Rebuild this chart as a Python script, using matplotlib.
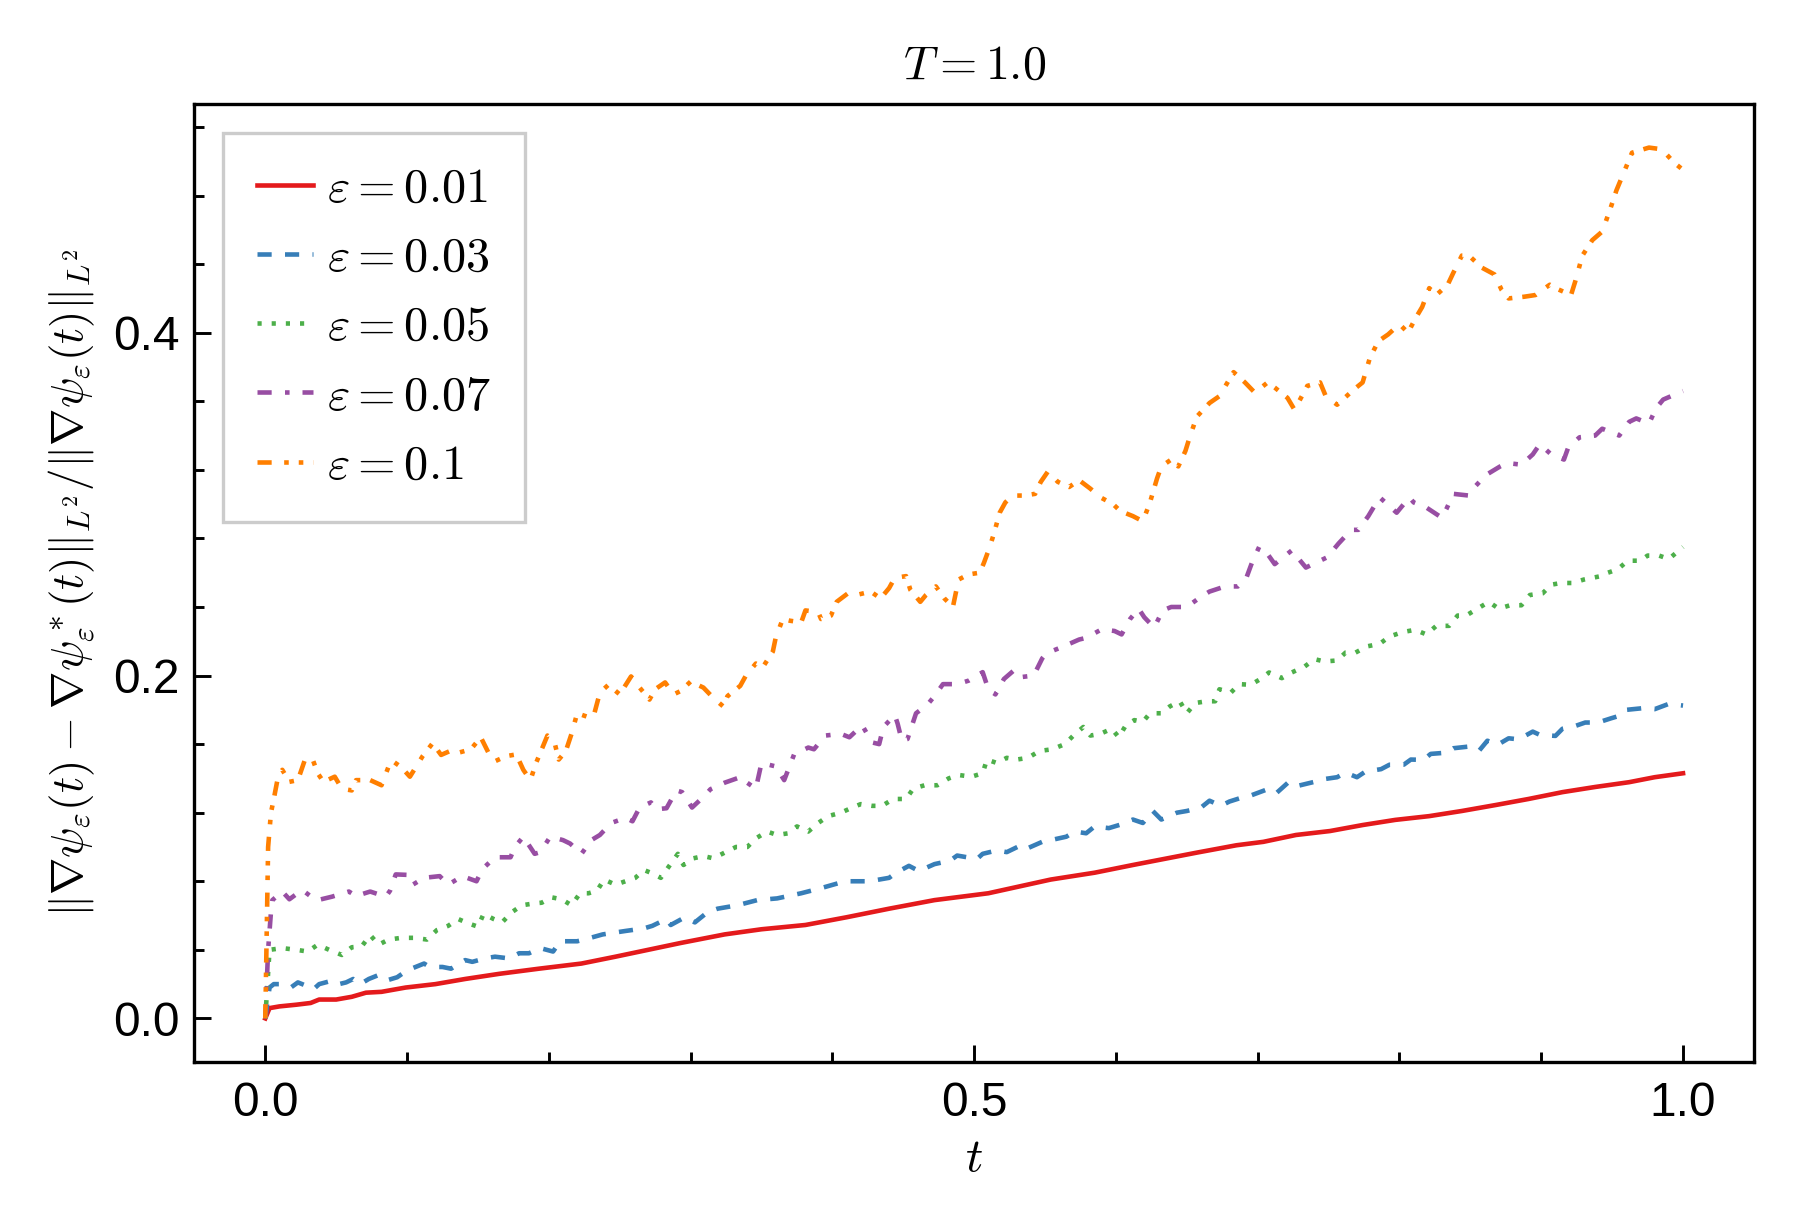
import matplotlib
matplotlib.use("Agg")
import matplotlib.pyplot as plt
from matplotlib.ticker import MultipleLocator, AutoMinorLocator

plt.rcParams['font.family'] = ['Liberation Sans', 'DejaVu Sans']
plt.rcParams['mathtext.fontset'] = 'cm'
plt.rcParams['lines.scale_dashes'] = False

# values, (t, relative error) per epsilon
t_red = [0, 0.003, 0.010, 0.022, 0.032, 0.038, 0.050, 0.061, 0.071, 0.082, 0.099, 0.120,
         0.141, 0.165, 0.193, 0.223, 0.247, 0.270, 0.293, 0.324, 0.350, 0.381, 0.410, 0.440,
         0.472, 0.510, 0.554, 0.585, 0.612, 0.657, 0.685, 0.704, 0.727, 0.751, 0.774, 0.797,
         0.821, 0.844, 0.868, 0.891, 0.915, 0.938, 0.962, 0.980, 1.000]
v_red = [0, 0.006, 0.007, 0.008, 0.009, 0.011, 0.011, 0.0126, 0.015, 0.0155, 0.018, 0.020,
         0.023, 0.026, 0.029, 0.032, 0.036, 0.040, 0.044, 0.049, 0.052, 0.0545, 0.059, 0.064,
         0.069, 0.073, 0.081, 0.085, 0.0895, 0.0967, 0.101, 0.103, 0.107, 0.1093, 0.1128, 0.1158,
         0.118, 0.121, 0.1245, 0.128, 0.132, 0.135, 0.1378, 0.1407, 0.143]

t_blue = [0, 0.003, 0.006, 0.010, 0.018, 0.023, 0.029, 0.034, 0.038, 0.047, 0.052, 0.057,
          0.062, 0.067, 0.073, 0.079, 0.085, 0.093, 0.100, 0.106, 0.112, 0.116, 0.125, 0.131,
          0.141, 0.146, 0.155, 0.162, 0.172, 0.179, 0.186, 0.194, 0.203, 0.208, 0.220, 0.225,
          0.238, 0.254, 0.267, 0.273, 0.283, 0.286, 0.296, 0.303, 0.312, 0.319, 0.333, 0.347,
          0.361, 0.378, 0.392, 0.409, 0.426, 0.440, 0.445, 0.454, 0.461, 0.472, 0.483, 0.488,
          0.502, 0.506, 0.516, 0.523, 0.533, 0.537, 0.548, 0.554, 0.565, 0.571, 0.579, 0.585,
          0.595, 0.603, 0.612, 0.619, 0.626, 0.632, 0.643, 0.650, 0.660, 0.666, 0.674, 0.680,
          0.691, 0.695, 0.707, 0.713, 0.722, 0.728, 0.740, 0.746, 0.756, 0.762, 0.770, 0.776,
          0.787, 0.793, 0.803, 0.808, 0.817, 0.822, 0.833, 0.838, 0.848, 0.856, 0.862, 0.869,
          0.877, 0.884, 0.894, 0.899, 0.910, 0.915, 0.924, 0.931, 0.940, 0.949, 0.957, 0.960,
          0.972, 0.980, 0.990, 1.000]
v_blue = [0, 0.018, 0.020, 0.020, 0.018, 0.021, 0.019, 0.017, 0.020, 0.022, 0.020, 0.021,
          0.023, 0.020, 0.023, 0.025, 0.022, 0.024, 0.028, 0.030, 0.032, 0.030, 0.030, 0.029,
          0.034, 0.033, 0.035, 0.036, 0.035, 0.038, 0.038, 0.041, 0.039, 0.045, 0.045, 0.046,
          0.049, 0.051, 0.0525, 0.054, 0.058, 0.0545, 0.059, 0.056, 0.062, 0.064, 0.066, 0.069,
          0.070, 0.073, 0.076, 0.080, 0.080, 0.082, 0.085, 0.089, 0.086, 0.090, 0.092, 0.095,
          0.093, 0.096, 0.098, 0.097, 0.101, 0.099, 0.103, 0.104, 0.106, 0.109, 0.108, 0.112,
          0.111, 0.113, 0.116, 0.114, 0.121, 0.116, 0.120, 0.121, 0.123, 0.127, 0.124, 0.1265,
          0.1294, 0.130, 0.1337, 0.1313, 0.138, 0.1356, 0.138, 0.1395, 0.1407, 0.1434, 0.1407, 0.144,
          0.1454, 0.148, 0.148, 0.151, 0.1508, 0.1543, 0.155, 0.1576, 0.1585, 0.156, 0.162, 0.1595,
          0.1634, 0.1628, 0.1673, 0.1654, 0.1648, 0.169, 0.1706, 0.1726, 0.1726, 0.175, 0.177, 0.180,
          0.181, 0.1804, 0.1835, 0.1825]

t_green = [0, 0.003, 0.012, 0.022, 0.030, 0.037, 0.045, 0.054, 0.061, 0.068, 0.074, 0.080,
           0.087, 0.096, 0.105, 0.114, 0.121, 0.129, 0.136, 0.143, 0.150, 0.154, 0.161, 0.167,
           0.174, 0.181, 0.189, 0.195, 0.202, 0.209, 0.216, 0.222, 0.228, 0.234, 0.239, 0.247,
           0.254, 0.261, 0.267, 0.273, 0.279, 0.285, 0.291, 0.295, 0.302, 0.309, 0.316, 0.324,
           0.332, 0.340, 0.346, 0.354, 0.361, 0.369, 0.375, 0.383, 0.390, 0.397, 0.406, 0.414,
           0.420, 0.428, 0.435, 0.443, 0.452, 0.457, 0.465, 0.474, 0.482, 0.489, 0.498, 0.506,
           0.509, 0.516, 0.523, 0.530, 0.538, 0.546, 0.555, 0.564, 0.570, 0.577, 0.582, 0.589,
           0.597, 0.602, 0.607, 0.613, 0.619, 0.624, 0.632, 0.638, 0.645, 0.650, 0.656, 0.664,
           0.670, 0.673, 0.681, 0.687, 0.695, 0.701, 0.708, 0.717, 0.724, 0.733, 0.740, 0.747,
           0.756, 0.762, 0.769, 0.777, 0.786, 0.793, 0.802, 0.811, 0.819, 0.826, 0.835, 0.841,
           0.847, 0.855, 0.863, 0.870, 0.878, 0.886, 0.892, 0.901, 0.907, 0.914, 0.922, 0.930,
           0.936, 0.942, 0.947, 0.954, 0.961, 0.970, 0.975, 0.983, 0.990, 1.000]
v_green = [0, 0.040, 0.041, 0.040, 0.039, 0.043, 0.040, 0.037, 0.0415, 0.042, 0.0486, 0.043,
           0.046, 0.047, 0.047, 0.046, 0.0515, 0.054, 0.058, 0.0555, 0.0535, 0.061, 0.058, 0.056,
           0.062, 0.066, 0.067, 0.0675, 0.0706, 0.0695, 0.066, 0.073, 0.073, 0.0745, 0.081, 0.078,
           0.080, 0.082, 0.0866, 0.0846, 0.082, 0.089, 0.096, 0.0895, 0.0934, 0.0947, 0.0934, 0.0967,
           0.100, 0.100, 0.105, 0.109, 0.107, 0.108, 0.112, 0.109, 0.114, 0.118, 0.120, 0.123,
           0.125, 0.124, 0.124, 0.128, 0.128, 0.134, 0.136, 0.136, 0.140, 0.142, 0.141, 0.143,
           0.151, 0.149, 0.152, 0.151, 0.152, 0.156, 0.157, 0.160, 0.165, 0.170, 0.165, 0.166,
           0.169, 0.164, 0.171, 0.174, 0.173, 0.178, 0.178, 0.182, 0.185, 0.178, 0.184, 0.185,
           0.185, 0.192, 0.190, 0.195, 0.1946, 0.1975, 0.2018, 0.1985, 0.2018, 0.2052, 0.2096, 0.2082,
           0.2088, 0.2134, 0.2134, 0.217, 0.2185, 0.2228, 0.2253, 0.2267, 0.224, 0.229, 0.229, 0.235,
           0.235, 0.239, 0.243, 0.239, 0.241, 0.241, 0.247, 0.248, 0.253, 0.254, 0.254, 0.256,
           0.257, 0.258, 0.260, 0.262, 0.267, 0.267, 0.270, 0.270, 0.268, 0.275]

t_purple = [0, 0.002, 0.004, 0.005, 0.012, 0.017, 0.026, 0.033, 0.037, 0.047, 0.059, 0.064,
            0.074, 0.085, 0.088, 0.092, 0.101, 0.104, 0.112, 0.123, 0.129, 0.139, 0.149, 0.153,
            0.162, 0.173, 0.176, 0.182, 0.190, 0.194, 0.201, 0.210, 0.215, 0.223, 0.230, 0.236,
            0.244, 0.254, 0.259, 0.264, 0.272, 0.276, 0.283, 0.290, 0.294, 0.301, 0.310, 0.314,
            0.324, 0.336, 0.339, 0.346, 0.350, 0.360, 0.366, 0.373, 0.383, 0.387, 0.395, 0.406,
            0.412, 0.421, 0.428, 0.433, 0.436, 0.444, 0.446, 0.449, 0.453, 0.459, 0.467, 0.472,
            0.478, 0.488, 0.496, 0.506, 0.510, 0.515, 0.521, 0.528, 0.532, 0.542, 0.548, 0.551,
            0.563, 0.574, 0.579, 0.590, 0.599, 0.604, 0.610, 0.616, 0.620, 0.627, 0.633, 0.639,
            0.650, 0.660, 0.666, 0.677, 0.686, 0.692, 0.696, 0.701, 0.706, 0.712, 0.724, 0.727,
            0.734, 0.744, 0.749, 0.757, 0.766, 0.771, 0.778, 0.786, 0.790, 0.798, 0.807, 0.810,
            0.819, 0.830, 0.833, 0.838, 0.849, 0.853, 0.861, 0.871, 0.876, 0.886, 0.894, 0.899,
            0.907, 0.916, 0.919, 0.927, 0.938, 0.943, 0.955, 0.962, 0.967, 0.976, 0.981, 0.986,
            1.000]
v_purple = [0, 0.040, 0.062, 0.069, 0.074, 0.0695, 0.075, 0.0706, 0.069, 0.071, 0.074, 0.0714,
            0.074, 0.071, 0.0745, 0.084, 0.0837, 0.078, 0.082, 0.083, 0.078, 0.083, 0.080, 0.087,
            0.094, 0.094, 0.100, 0.106, 0.096, 0.097, 0.106, 0.104, 0.102, 0.096, 0.104, 0.107,
            0.114, 0.117, 0.115, 0.123, 0.126, 0.122, 0.1226, 0.133, 0.132, 0.123, 0.130, 0.1337,
            0.1375, 0.141, 0.138, 0.134, 0.149, 0.147, 0.139, 0.154, 0.158, 0.157, 0.165, 0.166,
            0.164, 0.171, 0.161, 0.160, 0.170, 0.177, 0.172, 0.162, 0.163, 0.178, 0.183, 0.188,
            0.195, 0.195, 0.197, 0.202, 0.192, 0.189, 0.198, 0.203, 0.199, 0.200, 0.210, 0.213,
            0.217, 0.221, 0.222, 0.227, 0.226, 0.224, 0.233, 0.239, 0.234, 0.228, 0.238, 0.240,
            0.240, 0.246, 0.249, 0.252, 0.252, 0.257, 0.266, 0.275, 0.272, 0.265, 0.273, 0.270,
            0.263, 0.267, 0.269, 0.277, 0.285, 0.285, 0.293, 0.304, 0.301, 0.295, 0.304, 0.301,
            0.298, 0.292, 0.297, 0.306, 0.305, 0.310, 0.317, 0.322, 0.324, 0.323, 0.329, 0.335,
            0.329, 0.326, 0.333, 0.339, 0.340, 0.344, 0.340, 0.348, 0.350, 0.347, 0.356, 0.361,
            0.366]

t_orange = [0, 0.002, 0.004, 0.006, 0.009, 0.012, 0.017, 0.023, 0.028, 0.033, 0.037, 0.041,
            0.049, 0.054, 0.061, 0.064, 0.074, 0.082, 0.087, 0.090, 0.096, 0.102, 0.111, 0.118,
            0.124, 0.132, 0.135, 0.145, 0.152, 0.158, 0.162, 0.170, 0.177, 0.182, 0.187, 0.191,
            0.195, 0.199, 0.204, 0.207, 0.212, 0.216, 0.220, 0.227, 0.232, 0.236, 0.242, 0.250,
            0.258, 0.263, 0.271, 0.275, 0.282, 0.288, 0.293, 0.300, 0.309, 0.316, 0.323, 0.326,
            0.335, 0.339, 0.346, 0.351, 0.358, 0.360, 0.365, 0.370, 0.378, 0.381, 0.390, 0.392,
            0.399, 0.403, 0.411, 0.417, 0.427, 0.434, 0.440, 0.444, 0.452, 0.455, 0.462, 0.466,
            0.473, 0.479, 0.485, 0.489, 0.496, 0.504, 0.507, 0.511, 0.514, 0.518, 0.522, 0.527,
            0.535, 0.543, 0.547, 0.552, 0.559, 0.567, 0.574, 0.582, 0.589, 0.598, 0.603, 0.612,
            0.619, 0.624, 0.629, 0.632, 0.639, 0.644, 0.649, 0.652, 0.657, 0.666, 0.673, 0.683,
            0.691, 0.698, 0.707, 0.712, 0.721, 0.726, 0.735, 0.744, 0.748, 0.756, 0.768, 0.774,
            0.779, 0.785, 0.792, 0.800, 0.806, 0.811, 0.816, 0.821, 0.826, 0.834, 0.838, 0.844,
            0.849, 0.858, 0.867, 0.872, 0.877, 0.888, 0.896, 0.906, 0.910, 0.921, 0.924, 0.929,
            0.936, 0.943, 0.949, 0.953, 0.957, 0.964, 0.976, 0.985, 0.994, 1.000]
v_orange = [0, 0.100, 0.120, 0.128, 0.141, 0.145, 0.138, 0.139, 0.151, 0.152, 0.143, 0.138,
            0.141, 0.134, 0.133, 0.139, 0.139, 0.136, 0.147, 0.150, 0.1465, 0.141, 0.153, 0.1605,
            0.1537, 0.1566, 0.1547, 0.157, 0.164, 0.154, 0.150, 0.153, 0.154, 0.145, 0.139, 0.149,
            0.157, 0.165, 0.161, 0.151, 0.156, 0.166, 0.178, 0.176, 0.1776, 0.190, 0.1946, 0.189,
            0.1995, 0.194, 0.186, 0.192, 0.196, 0.189, 0.191, 0.1965, 0.193, 0.187, 0.182, 0.188,
            0.194, 0.200, 0.207, 0.205, 0.214, 0.222, 0.233, 0.232, 0.231, 0.238, 0.237, 0.233,
            0.235, 0.243, 0.248, 0.247, 0.249, 0.245, 0.251, 0.257, 0.258, 0.250, 0.243, 0.247,
            0.252, 0.245, 0.240, 0.256, 0.259, 0.260, 0.266, 0.275, 0.283, 0.295, 0.301, 0.305,
            0.305, 0.306, 0.313, 0.319, 0.313, 0.310, 0.314, 0.309, 0.304, 0.300, 0.296, 0.293,
            0.290, 0.301, 0.315, 0.322, 0.326, 0.322, 0.331, 0.339, 0.351, 0.359, 0.363, 0.377,
            0.371, 0.365, 0.371, 0.368, 0.362, 0.355, 0.369, 0.371, 0.363, 0.358, 0.367, 0.371,
            0.385, 0.395, 0.399, 0.405, 0.400, 0.408, 0.415, 0.426, 0.422, 0.428, 0.435, 0.445,
            0.445, 0.438, 0.434, 0.425, 0.420, 0.421, 0.422, 0.428, 0.426, 0.422, 0.430, 0.445,
            0.454, 0.459, 0.473, 0.483, 0.491, 0.505, 0.508, 0.507, 0.499, 0.495]

labels = [r'$\varepsilon = 0.01$', r'$\varepsilon = 0.03$', r'$\varepsilon = 0.05$',
          r'$\varepsilon = 0.07$', r'$\varepsilon = 0.1$']

fig, ax = plt.subplots(figsize=(6, 4.08), dpi=300)
fig.subplots_adjust(left=0.108, right=0.9744, top=0.915, bottom=0.1324)

lw = 1.1
ax.plot(t_red, v_red, color='#e41a1c', lw=lw, label=labels[0])
ax.plot(t_blue, v_blue, color='#377eb8', lw=lw, dashes=(3.4, 3.2), label=labels[1])
ax.plot(t_green, v_green, color='#4daf4a', lw=lw, dashes=(1.0, 2.4), label=labels[2])
ax.plot(t_purple, v_purple, color='#984ea3', lw=lw, dashes=(3.4, 3.2, 1.1, 3.1), label=labels[3])
ax.plot(t_orange, v_orange, color='#ff7f00', lw=lw, dashes=(3.4, 3.0, 1.1, 2.4, 1.1, 2.4),
        label=labels[4])

ax.xaxis.set_major_locator(MultipleLocator(0.5))
ax.xaxis.set_minor_locator(AutoMinorLocator(5))
ax.yaxis.set_major_locator(MultipleLocator(0.2))
ax.yaxis.set_minor_locator(AutoMinorLocator(5))
ax.xaxis.set_major_formatter(plt.FormatStrFormatter('%.1f'))
ax.yaxis.set_major_formatter(plt.FormatStrFormatter('%.1f'))
ax.tick_params(which='both', direction='in', labelsize=11.5, width=0.7)
ax.tick_params(which='major', length=4)
ax.tick_params(which='minor', length=2.5)
ax.tick_params(axis='x', pad=4.5)
for s in ax.spines.values():
    s.set_linewidth(0.8)

ax.set_title(r'$T = 1.0$', fontsize=11.5)
ax.set_xlabel(r'$t$', fontsize=11.5, labelpad=2.5)
ax.set_ylabel(r'$\|\nabla\psi_\varepsilon(t) - \nabla\psi^*_\varepsilon(t)\|_{L^2} / '
              r'\|\nabla\psi_\varepsilon(t)\|_{L^2}$', fontsize=10.8)

leg = ax.legend(loc='upper left', fontsize=11.6, fancybox=False, edgecolor='0.8',
                framealpha=1, handlelength=1.15, handletextpad=0.3, borderaxespad=0.6,
                borderpad=0.7, labelspacing=0.5)
leg.get_frame().set_linewidth(0.8)

fig.savefig('out.png', dpi=300)
